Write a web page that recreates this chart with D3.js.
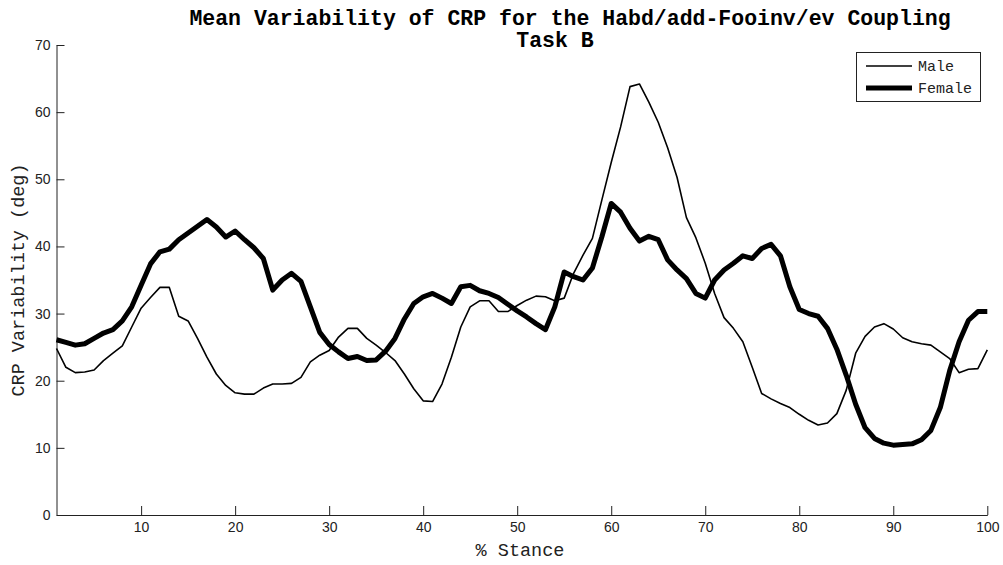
<!DOCTYPE html>
<html>
<head>
<meta charset="utf-8">
<script src="https://cdn.jsdelivr.net/npm/d3@7"></script>
<style>
  html, body { margin: 0; padding: 0; background: #fff; }
  svg { display: block; }
</style>
</head>
<body>
<svg id="chart" width="1003" height="565"></svg>
<script>
// ---- Data ----
const stance = d3.range(1, 101);
const maleValues = [
  24.8, 22.0, 21.2, 21.3, 21.6, 23.0, 24.1, 25.2, 28.0, 30.8,
  32.4, 33.9, 33.9, 29.6, 28.9, 26.3, 23.5, 21.0, 19.3, 18.2,
  18.0, 18.0, 18.9, 19.5, 19.5, 19.6, 20.5, 22.8, 23.8, 24.5,
  26.5, 27.8, 27.8, 26.3, 25.3, 24.2, 23.0, 21.0, 18.8, 17.0,
  16.9, 19.5, 23.5, 28.0, 31.0, 31.9, 31.9, 30.3, 30.3, 31.2,
  32.0, 32.6, 32.5, 31.9, 32.3, 36.0, 38.7, 41.2, 46.9, 52.5,
  57.8, 63.8, 64.2, 61.5, 58.5, 54.7, 50.3, 44.3, 41.3, 37.5,
  33.0, 29.4, 27.8, 25.8, 22.0, 18.1, 17.3, 16.6, 16.0, 15.0,
  14.1, 13.4, 13.7, 15.1, 18.6, 24.1, 26.6, 28.0, 28.5, 27.7,
  26.4, 25.8, 25.5, 25.3, 24.3, 23.3, 21.2, 21.7, 21.8, 24.6
];
const femaleValues = [
  26.1, 25.7, 25.3, 25.5, 26.3, 27.1, 27.6, 28.9, 31.0, 34.2,
  37.4, 39.2, 39.6, 41.0, 42.0, 43.0, 44.0, 42.9, 41.4, 42.3,
  41.0, 39.8, 38.2, 33.5, 35.0, 36.0, 34.8, 31.0, 27.2, 25.4,
  24.3, 23.3, 23.6, 23.0, 23.1, 24.4, 26.3, 29.2, 31.5, 32.5,
  33.0, 32.3, 31.5, 34.0, 34.2, 33.4, 33.0, 32.4, 31.4, 30.4,
  29.5, 28.5, 27.6, 31.0, 36.2, 35.5, 35.0, 36.8, 41.4, 46.4,
  45.1, 42.7, 40.8, 41.5, 41.0, 38.0, 36.5, 35.2, 33.0, 32.3,
  35.0, 36.5, 37.5, 38.6, 38.2, 39.7, 40.3, 38.6, 34.0, 30.6,
  30.0, 29.6, 27.8, 24.7, 20.8, 16.5, 13.0, 11.4, 10.7, 10.4,
  10.5, 10.6, 11.2, 12.6, 16.0, 21.5, 25.8, 29.0, 30.3, 30.3
];
const xTickValues = [10, 20, 30, 40, 50, 60, 70, 80, 90, 100];
const yTickValues = [0, 10, 20, 30, 40, 50, 60, 70];
const seriesNames = ["Male", "Female"];
const titleLines = ["Mean Variability of CRP for the Habd/add-Fooinv/ev Coupling", "Task B"];
const xLabel = "% Stance";
const yLabel = "CRP Variability (deg)";

// ---- Layout ----
const svg = d3.select("#chart");
const plotLeft = 56.5, plotRight = 987.3, plotTop = 45, plotBottom = 515;
const x = d3.scaleLinear().domain([1, 100]).range([plotLeft, plotRight]);
const y = d3.scaleLinear().domain([0, 70]).range([plotBottom, plotTop]);
const mono = "'Liberation Mono', 'Courier New', monospace";
const sans = "'Liberation Sans', Arial, sans-serif";

// Axes
const xAxis = d3.axisBottom(x).tickValues(xTickValues).tickSizeInner(-9).tickSizeOuter(0).tickPadding(7);
const yAxis = d3.axisLeft(y).tickValues(yTickValues).tickSizeInner(-8).tickSizeOuter(0).tickPadding(6);

const gx = svg.append("g").attr("transform", `translate(0,${plotBottom})`).call(xAxis);
const gy = svg.append("g").attr("transform", `translate(${plotLeft},0)`).call(yAxis);
[gx, gy].forEach(g => {
  g.select(".domain").attr("stroke", "#222").attr("stroke-width", 1);
  g.selectAll(".tick line").attr("stroke", "#222").attr("stroke-width", 1);
  g.selectAll(".tick text").attr("font-family", sans).attr("font-size", 14).attr("fill", "#222");
});

// Lines
const line = d3.line().x((d, i) => x(stance[i])).y(d => y(d));
svg.append("path").datum(maleValues)
  .attr("fill", "none").attr("stroke", "#000").attr("stroke-width", 1.6)
  .attr("stroke-linejoin", "round").attr("d", line);
svg.append("path").datum(femaleValues)
  .attr("fill", "none").attr("stroke", "#000").attr("stroke-width", 5)
  .attr("stroke-linejoin", "round").attr("d", line);

// Title
svg.append("text").attr("x", 570).attr("y", 25).attr("text-anchor", "middle")
  .attr("font-family", mono).attr("font-weight", "bold").attr("font-size", 21.5)
  .text(titleLines[0]);
svg.append("text").attr("x", 555).attr("y", 47).attr("text-anchor", "middle")
  .attr("font-family", mono).attr("font-weight", "bold").attr("font-size", 21.5)
  .text(titleLines[1]);

// Axis labels
svg.append("text").attr("x", 520).attr("y", 556).attr("text-anchor", "middle")
  .attr("font-family", mono).attr("font-size", 18.5).attr("fill", "#222")
  .text(xLabel);
svg.append("text").attr("transform", `translate(24,${(plotTop + plotBottom) / 2}) rotate(-90)`)
  .attr("text-anchor", "middle")
  .attr("font-family", mono).attr("font-size", 18.5).attr("fill", "#222")
  .text(yLabel);

// Legend
const lg = svg.append("g");
lg.append("rect").attr("x", 856.5).attr("y", 52.5).attr("width", 124).attr("height", 49)
  .attr("fill", "#fff").attr("stroke", "#222").attr("stroke-width", 1);
const legendWidths = [1.6, 5];
seriesNames.forEach((name, i) => {
  const ly = 66 + i * 22;
  lg.append("line").attr("x1", 866).attr("x2", 912).attr("y1", ly).attr("y2", ly)
    .attr("stroke", "#000").attr("stroke-width", legendWidths[i]);
  lg.append("text").attr("x", 918).attr("y", ly + 5)
    .attr("font-family", mono).attr("font-size", 15).attr("fill", "#222")
    .text(name);
});
</script>
</body>
</html>
